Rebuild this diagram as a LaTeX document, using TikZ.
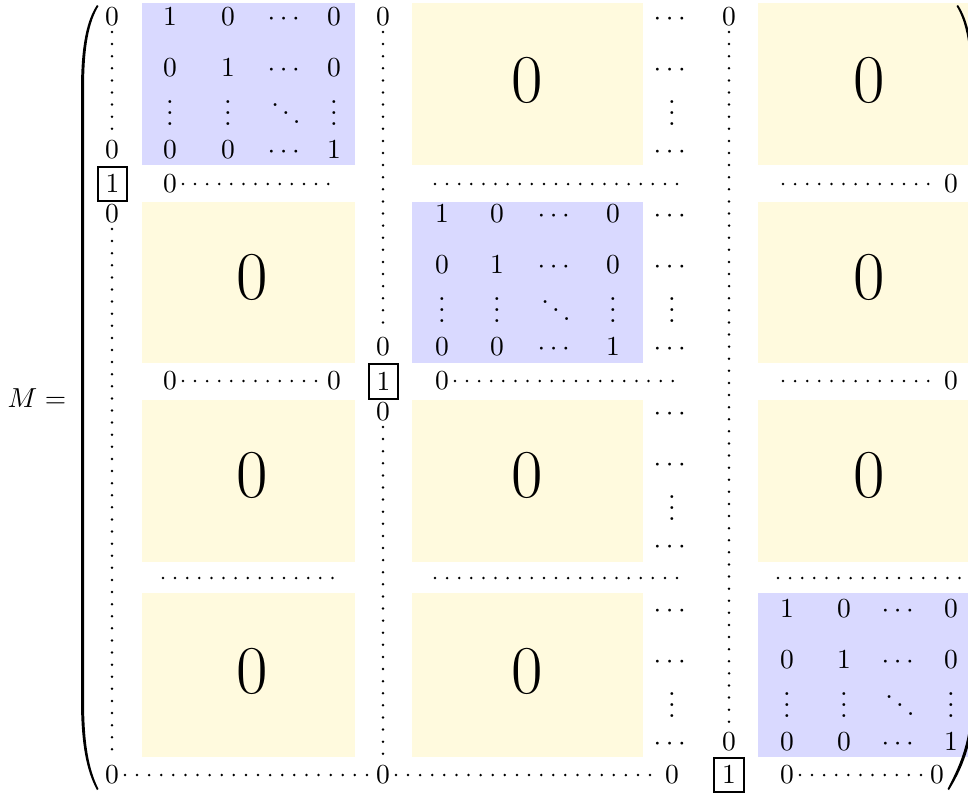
\documentclass[tikz,border=0pt]{standalone}
\usepackage{amsmath}
\definecolor{idblue}{RGB}{217,217,255}
\definecolor{zeroyellow}{RGB}{255,250,222}

\begin{document}
\begin{tikzpicture}[
  x=0.3636pt, y=-0.3636pt,
  every node/.style={inner sep=2pt},
  entry/.style={text height=6.5pt, text depth=0pt},
  bigzero/.style={font=\Huge, inner sep=0pt},
  onebox/.style={draw, line width=0.8pt, minimum width=10.8pt, minimum height=12.6pt, inner sep=0pt},
  dotline/.style={line width=1pt, line cap=round, dash pattern=on 0pt off 4.4pt},
]
  \useasboundingbox (0,0) rectangle (968,792);
  \clip (0,0) rectangle (968,792);

  % Identity blocks
  \fill[idblue] (142,3) rectangle (355,165);
  \fill[idblue] (412,202) rectangle (643,363);
  \fill[idblue] (758,593) rectangle (975,757);

  % Zero blocks
  \foreach \xl/\xr/\yt/\yb in {412/643/3/165, 758/975/3/165, 142/355/202/363,
      758/975/202/363, 142/355/400/562, 412/643/400/562, 758/975/400/562,
      142/355/593/757, 412/643/593/757}
    \fill[zeroyellow] (\xl,\yt) rectangle (\xr,\yb);

  \foreach \nm/\px/\py in {z12/527/80, z13/869/80, z21/252/277, z23/869/277,
      z31/252/475, z32/527/475, z33/869/475, z41/252/671, z42/527/671}
    \node[bigzero] (\nm) at (\px,\py) {$0$};

  % Entries of the identity blocks
  \foreach \nm/\xa/\xb/\xc/\xd/\ry in {ia/170/228/286/334/17, ib/442/497/556/613/214,
      ic/787/844/900/951/609} {
    \node[entry] (\nm11) at (\xa,\ry) {$1$};
    \node[entry] (\nm12) at (\xb,\ry) {$0$};
    \node[entry] (\nm13) at (\xc,\ry) {$\cdots$};
    \node[entry] (\nm14) at (\xd,\ry) {$0$};
    \node[entry] (\nm21) at (\xa,\ry+51) {$0$};
    \node[entry] (\nm22) at (\xb,\ry+51) {$1$};
    \node[entry] (\nm23) at (\xc,\ry+51) {$\cdots$};
    \node[entry] (\nm24) at (\xd,\ry+51) {$0$};
    \node[entry] (\nm31) at (\xa,\ry+100) {$\vdots$};
    \node[entry] (\nm32) at (\xb,\ry+100) {$\vdots$};
    \node[entry] (\nm33) at (\xc,\ry+100) {$\ddots$};
    \node[entry] (\nm34) at (\xd,\ry+100) {$\vdots$};
    \node[entry] (\nm41) at (\xa,\ry+133) {$0$};
    \node[entry] (\nm42) at (\xb,\ry+133) {$0$};
    \node[entry] (\nm43) at (\xc,\ry+133) {$\cdots$};
    \node[entry] (\nm44) at (\xd,\ry+133) {$1$};
  }

  % Dots column
  \foreach \ry [count=\i] in {17,214,412,609} {
    \node[entry] (cd\i-a) at (672,\ry) {$\cdots$};
    \node[entry] (cd\i-b) at (672,\ry+51) {$\cdots$};
    \node[entry] (cd\i-c) at (672,\ry+100) {$\vdots$};
    \node[entry] (cd\i-d) at (672,\ry+133) {$\cdots$};
  }

  % Single zeros
  \node[entry] (la1) at (112,17) {$0$};
  \node[entry] (la2) at (112,150) {$0$};
  \node[entry] (la3) at (112,214) {$0$};
  \node[entry] (la4) at (112,775) {$0$};
  \node[entry] (lb1) at (383,17) {$0$};
  \node[entry] (lb2) at (383,347) {$0$};
  \node[entry] (lb3) at (383,412) {$0$};
  \node[entry] (lb4) at (383,775) {$0$};
  \node[entry] (lc1) at (729,17) {$0$};
  \node[entry] (lc2) at (729,742) {$0$};
  \node[entry] (bot3) at (672,775) {$0$};
  \node[entry] (h1a) at (170,184) {$0$};
  \node[entry] (h1z) at (951,184) {$0$};
  \node[entry] (h2a) at (170,381) {$0$};
  \node[entry] (h2b) at (334,381) {$0$};
  \node[entry] (h2c) at (442,381) {$0$};
  \node[entry] (h2z) at (951,381) {$0$};
  \node[entry] (h4a) at (787,775) {$0$};
  \node[entry] (h4z) at (937,775) {$0$};

  % Boxed ones
  \node[onebox] (one1) at (112.5,184) {$1$};
  \node[onebox] (one2) at (383.5,381.5) {$1$};
  \node[onebox] (one3) at (729,775) {$1$};

  % Free ends of dotted rows
  \coordinate (h1b) at (340,184);
  \coordinate (h1c) at (435,184);
  \coordinate (h1d) at (687,184);
  \coordinate (h1e) at (783,184);
  \coordinate (h2d) at (683,381);
  \coordinate (h2e) at (783,381);
  \coordinate (h3a) at (163,578);
  \coordinate (h3b) at (343,578);
  \coordinate (h3c) at (435,578);
  \coordinate (h3d) at (687,578);
  \coordinate (h3e) at (778,578);
  \coordinate (h3f) at (980,578);

  % Dotted lines
  \draw[dotline] (la1) -- (la2);
  \draw[dotline] (la3) -- (la4);
  \draw[dotline] (lb1) -- (lb2);
  \draw[dotline] (lb3) -- (lb4);
  \draw[dotline] (lc1) -- (lc2);
  \draw[dotline] (la4) -- (lb4);
  \draw[dotline] (lb4) -- (bot3);
  \draw[dotline] (h4a) -- (h4z);
  \draw[dotline] (h1a) -- (h1b);
  \draw[dotline] (h1c) -- (h1d);
  \draw[dotline] (h1e) -- (h1z);
  \draw[dotline] (h2a) -- (h2b);
  \draw[dotline] (h2c) -- (h2d);
  \draw[dotline] (h2e) -- (h2z);
  \draw[dotline] (h3a) -- (h3b);
  \draw[dotline] (h3c) -- (h3d);
  \draw[dotline] (h3e) -- (h3f);

  % Parentheses
  \fill (97,5) .. controls (87,20) and (81,45) .. (81,90) -- (81,700)
    .. controls (81,745) and (87,772) .. (97,790) -- (98.5,789)
    .. controls (89,770) and (84,745) .. (84,700) -- (84,90)
    .. controls (84,45) and (89,22) .. (98.5,6) -- cycle;
  \fill (958,5) .. controls (968,20) and (974,45) .. (974,90) -- (974,700)
    .. controls (974,745) and (960,772) .. (949,790) -- (947.5,789)
    .. controls (957,770) and (971,745) .. (971,700) -- (971,90)
    .. controls (971,45) and (966,22) .. (956.5,6) -- cycle;

  % Label
  \node (mlabel) at (37,398) {$M =$};
\end{tikzpicture}
\end{document}
